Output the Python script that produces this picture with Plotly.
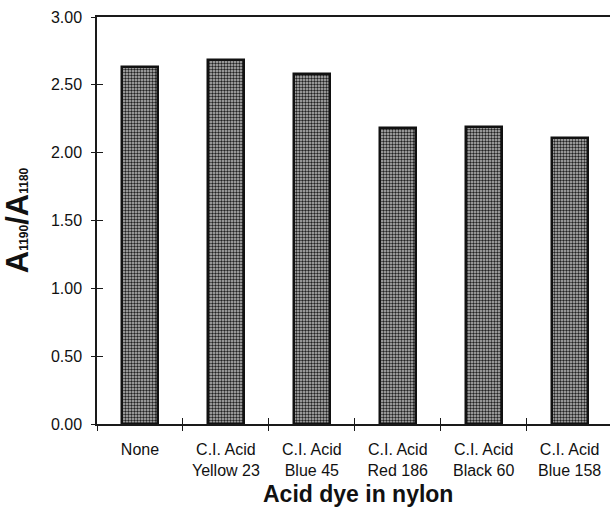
import plotly.graph_objects as go

categories = ["None", "C.I. Acid<br>Yellow 23", "C.I. Acid<br>Blue 45", "C.I. Acid<br>Red 186",
              "C.I. Acid<br>Black 60", "C.I. Acid<br>Blue 158"]
ratios = [2.63, 2.68, 2.58, 2.18, 2.19, 2.11]
y_ticks = [0, 0.5, 1.0, 1.5, 2.0, 2.5, 3.0]

FONT = "Liberation Sans, Arial, Helvetica, sans-serif"
AX = "#1a1a1a"
SUB = "<span style='font-size:12px'>{}</span>"

fig = go.Figure()
fig.add_trace(go.Bar(
    x=categories, y=ratios, width=0.42,
    marker=dict(color="#b0b0b0",
                line=dict(color="#111111", width=2.5),
                pattern=dict(shape=".", fgcolor="#222222", bgcolor="#bdbdbd",
                             size=3, solidity=0.5, fillmode="replace")),
    showlegend=False, hoverinfo="skip",
))
# invisible trace on overlay axes (for inner tick marks)
fig.add_trace(go.Scatter(x=[0], y=[0], xaxis="x2", yaxis="y2", mode="markers",
                         marker=dict(opacity=0), showlegend=False, hoverinfo="skip"))

xr = [-0.5, 5.47]
fig.update_layout(
    width=610, height=509,
    margin=dict(l=97, r=0, t=17, b=85),
    paper_bgcolor="white", plot_bgcolor="white",
    font=dict(family=FONT, color="#111111"),
    xaxis=dict(
        type="category", range=xr, tickson="boundaries",
        ticks="outside", ticklen=5, tickwidth=1, tickcolor=AX,
        showline=True, linecolor=AX, linewidth=1.5, mirror=True,
        showgrid=False, zeroline=False,
        tickfont=dict(size=16, family=FONT), ticklabelstandoff=10,
    ),
    yaxis=dict(
        range=[0, 3], tickvals=y_ticks, tickformat=".2f",
        ticks="outside", ticklen=4, tickwidth=1, tickcolor=AX,
        showline=True, linecolor=AX, linewidth=1.5, mirror=False,
        showgrid=False, zeroline=False,
        tickfont=dict(size=16, family=FONT), ticklabelstandoff=6,
        title=dict(text="<b>A" + SUB.format("1190") + "/A" + SUB.format("1180") + "</b>",
                   font=dict(size=31, family=FONT), standoff=13),
    ),
    xaxis2=dict(overlaying="x", anchor="y2", range=xr, tickvals=[0.5, 1.5, 2.5, 3.5, 4.5],
                ticks="inside", ticklen=6, tickwidth=1, tickcolor=AX,
                showticklabels=False, showgrid=False, zeroline=False, showline=False),
    yaxis2=dict(overlaying="y", anchor="x2", side="left", range=[0, 3], tickvals=y_ticks,
                ticks="inside", ticklen=6, tickwidth=1, tickcolor=AX,
                showticklabels=False, showgrid=False, zeroline=False, showline=False),
    bargap=0,
    annotations=[dict(text="<b>Acid dye in nylon</b>", xref="paper", yref="paper",
                      x=0.508, y=-0.173, xanchor="center", yanchor="middle",
                      showarrow=False, font=dict(size=23, family=FONT, color="#111111"))],
)

fig.write_html("out.html")
